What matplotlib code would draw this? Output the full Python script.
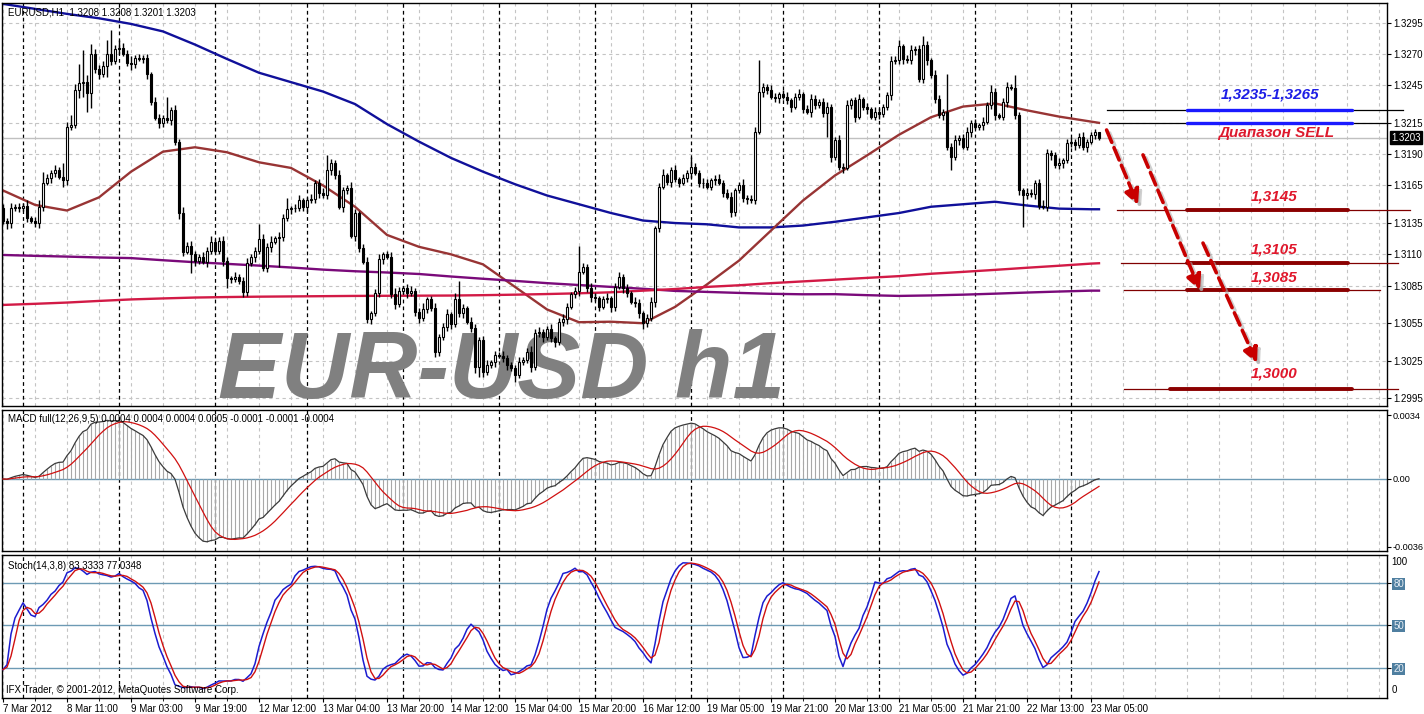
import matplotlib.pyplot as plt
import matplotlib.transforms as mtransforms
import numpy as np
import pandas as pd

plt.rcParams['font.family'] = ['Liberation Sans', 'DejaVu Sans']

# hourly bars, weekends skipped, monday starts at 01:00
hours = pd.date_range('2012-03-07 19:00', '2012-03-23 07:00', freq='h')
times = hours[(hours.dayofweek < 5) & ~((hours.dayofweek == 0) & (hours.hour == 0))]

# EURUSD H1 closes in pips above 1.3000
first_open = 147
close_pips = [
    137, 135, 147, 148, 147, 149, 139, 137, 135, 148,
    167, 171, 175, 177, 172, 169, 212, 213, 241, 247,
    248, 239, 270, 258, 254, 260, 270, 264, 274, 275,
    270, 263, 262, 267, 266, 267, 254, 232, 219, 215,
    219, 217, 225, 200, 143, 112, 117, 110, 105, 108,
    104, 113, 120, 113, 121, 105, 91, 90, 92, 89,
    80, 103, 108, 113, 122, 99, 116, 120, 123, 124,
    139, 146, 147, 147, 153, 148, 153, 154, 167, 159,
    157, 177, 183, 173, 148, 161, 163, 125, 143, 115,
    104, 58, 63, 79, 106, 110, 108, 78, 70, 81,
    83, 79, 81, 64, 59, 66, 74, 67, 32, 44,
    52, 62, 54, 74, 63, 67, 56, 51, 20, 42,
    16, 22, 24, 30, 29, 27, 22, 19, 14, 24,
    26, 32, 20, 47, 48, 44, 50, 43, 40, 56,
    58, 68, 78, 81, 96, 100, 83, 76, 75, 68,
    74, 75, 68, 84, 92, 83, 79, 72, 71, 63,
    55, 59, 72, 131, 164, 173, 168, 177, 170, 167,
    171, 175, 180, 175, 167, 167, 164, 169, 170, 167,
    159, 156, 144, 161, 165, 155, 154, 153, 208, 240,
    244, 241, 236, 235, 238, 236, 233, 228, 236, 238,
    226, 224, 234, 229, 232, 223, 228, 188, 201, 180,
    179, 229, 233, 220, 234, 228, 226, 220, 224, 222,
    228, 237, 264, 265, 276, 266, 265, 273, 274, 250,
    277, 265, 253, 234, 221, 224, 196, 188, 201, 203,
    196, 208, 215, 212, 213, 216, 229, 240, 221, 220,
    232, 244, 243, 221, 161, 157, 159, 158, 167, 149,
    148, 191, 189, 181, 183, 185, 199, 200, 197, 204,
    196, 200, 205, 208, 203,
]
# wick lengths in pips above / below the body
wick_up = [
    3, 2, 4, 2, 3, 2, 4, 2, 3, 5, 9, 3, 2, 4, 3, 11, 4, 8, 5, 15,
    25, 5, 8, 4, 3, 4, 11, 19, 3, 6, 4, 3, 5, 2, 3, 2, 3, 2, 4, 3,
    2, 17, 3, 4, 2, 5, 3, 4, 3, 2, 4, 3, 5, 2, 3, 4, 3, 2, 4, 2,
    3, 4, 2, 3, 12, 4, 3, 5, 2, 4, 3, 9, 2, 3, 4, 2, 3, 4, 2, 3,
    4, 12, 3, 2, 4, 3, 2, 5, 3, 2, 3, 4, 2, 3, 4, 2, 3, 4, 5, 3,
    2, 3, 4, 2, 3, 5, 2, 3, 4, 2, 3, 4, 2, 5, 15, 3, 2, 4, 3, 2,
    3, 4, 2, 3, 2, 4, 3, 2, 3, 4, 2, 3, 5, 3, 4, 2, 3, 4, 2, 3,
    4, 3, 2, 3, 21, 3, 2, 4, 3, 2, 3, 4, 2, 3, 4, 2, 3, 2, 4, 3,
    2, 3, 4, 2, 3, 5, 2, 3, 4, 2, 3, 2, 8, 3, 2, 4, 3, 2, 3, 4,
    2, 3, 4, 2, 3, 5, 2, 3, 4, 25, 3, 2, 4, 3, 2, 3, 4, 2, 3, 4,
    2, 3, 4, 3, 2, 3, 4, 2, 3, 4, 3, 4, 2, 3, 4, 2, 3, 2, 4, 3,
    2, 3, 4, 3, 5, 2, 3, 4, 2, 3, 7, 3, 2, 4, 3, 2, 30, 3, 4, 2,
    3, 4, 2, 3, 2, 4, 3, 5, 3, 2, 3, 4, 2, 10, 3, 2, 4, 3, 2, 3,
    4, 3, 2, 3, 4, 2, 3, 4, 2, 3, 4, 2, 3, 2, 0,
]
wick_dn = [
    3, 5, 4, 2, 3, 2, 3, 2, 3, 4, 3, 2, 4, 3, 2, 5, 4, 3, 2, 6,
    11, 15, 12, 3, 4, 2, 8, 3, 2, 4, 2, 3, 5, 3, 2, 3, 4, 3, 2, 4,
    3, 2, 4, 3, 5, 3, 2, 15, 4, 3, 2, 4, 3, 2, 3, 4, 8, 3, 2, 3,
    4, 3, 2, 4, 3, 2, 3, 4, 2, 23, 3, 2, 4, 3, 2, 3, 4, 2, 3, 4,
    2, 3, 4, 3, 2, 4, 3, 2, 4, 3, 2, 3, 4, 2, 3, 4, 2, 3, 4, 2,
    3, 4, 2, 3, 4, 2, 3, 2, 4, 3, 2, 3, 4, 2, 3, 4, 2, 3, 5, 8,
    4, 2, 3, 4, 2, 3, 4, 2, 6, 3, 2, 3, 4, 2, 3, 4, 2, 3, 4, 2,
    3, 4, 2, 3, 4, 2, 3, 4, 2, 3, 2, 3, 4, 3, 2, 4, 3, 2, 3, 4,
    5, 3, 2, 4, 3, 2, 3, 4, 2, 3, 2, 3, 4, 2, 3, 4, 2, 3, 4, 2,
    3, 2, 4, 3, 2, 3, 4, 2, 3, 2, 4, 3, 2, 3, 4, 2, 3, 4, 2, 3,
    3, 2, 4, 3, 2, 3, 19, 4, 3, 3, 4, 2, 3, 4, 2, 3, 4, 2, 3, 4,
    2, 3, 4, 2, 3, 4, 2, 3, 4, 2, 3, 4, 2, 3, 2, 4, 3, 11, 3, 4,
    2, 3, 4, 2, 3, 4, 2, 3, 4, 2, 3, 4, 2, 3, 4, 25, 3, 2, 4, 3,
    2, 3, 4, 2, 3, 4, 2, 3, 4, 2, 3, 4, 2, 3, 2,
]

# moving averages read every 8 bars (pips above 1.3000)
ma_bars = list(range(0, 273, 8)) + [274]
ma_blue = [310, 306, 302, 298.5, 294, 288, 277.5, 266, 255, 247.5, 240, 230,
           214, 200, 187, 176, 166, 157, 150, 143, 137, 135, 134, 131.5,
           131.5, 133, 136, 139.5, 143, 148, 150, 152, 149, 146.5, 146, 146]
ma_brown = [161, 149.5, 145, 155.5, 176, 192, 195.5, 191.5, 183.5, 179, 165, 148,
            125.5, 116, 110, 102, 84, 66, 55.8, 56.2, 55, 68, 86, 105,
            129, 153, 173, 189, 205.5, 219.5, 228, 230.5, 225, 220, 216, 215]
ma_purple = [109.5, 108.8, 108.2, 107.5, 107, 105.3, 103.7, 102.4, 101, 99.5, 97.8, 96.5,
             95.5, 94.3, 92.3, 90.5, 88.8, 87, 85.5, 84, 82.5, 80.8, 80, 79.2,
             78.5, 78.1, 78.2, 77.4, 76.8, 77.2, 77.8, 78.6, 79.5, 80.3, 81, 81]
ma_red = [69.6, 70.5, 71.5, 72.8, 74, 74.8, 75.5, 75.9, 76.2, 76.4, 76.6, 76.8,
          76.9, 77, 77.1, 77.4, 77.8, 78.3, 78.9, 79.7, 81, 82.3, 84, 85.3,
          87, 88.4, 89.8, 91.2, 92.6, 94.5, 96, 97.6, 99.3, 100.9, 102.6, 102.9]

price_ticks = [1.3295, 1.3270, 1.3245, 1.3215, 1.3190, 1.3165, 1.3135,
               1.3110, 1.3085, 1.3055, 1.3025, 1.2995]
bid = 1.3203

# analysis objects
sell_lines = [1.32253, 1.32151]
target_lines = [1.31454, 1.31033, 1.30815, 1.30022]
target_labels = ['1,3145', '1,3105', '1,3085', '1,3000']
target_label_y = [1.3156, 1.31135, 1.30916, 1.3015]
arrows = [((275.9, 1.32093), (283.75, 1.31494)),
          ((285.0, 1.31894), (299.25, 1.30815)),
          ((300.0, 1.31190), (313.5, 1.30232))]

o = np.array([first_open] + close_pips[:-1]) / 10000 + 1.3
c = np.array(close_pips) / 10000 + 1.3
h = np.maximum(o, c) + np.array(wick_up) / 10000
l = np.minimum(o, c) - np.array(wick_dn) / 10000
x = np.arange(len(c))

cs, hs, ls = pd.Series(c), pd.Series(h), pd.Series(l)
macd = cs.ewm(span=12, adjust=False).mean() - cs.ewm(span=26, adjust=False).mean()
signal = macd.rolling(9, min_periods=1).mean()
hh = hs.rolling(14, min_periods=1).max()
ll = ls.rolling(14, min_periods=1).min()
stoch_k = (cs - ll).rolling(8, min_periods=1).sum() / (hh - ll).rolling(8, min_periods=1).sum() * 100
stoch_d = stoch_k.rolling(3, min_periods=1).mean()

W, H = 1424, 714
FS = 7
fig = plt.figure(figsize=(W / 100, H / 100), dpi=100)
left, width = 2 / W, 1385 / W
ax = fig.add_axes([left, 1 - 406 / H, width, 403 / H])
ax2 = fig.add_axes([left, 1 - 551 / H, width, 141 / H])
ax3 = fig.add_axes([left, 1 - 698 / H, width, 143 / H])

day = times.normalize()
seps = np.where(day[1:] != day[:-1])[0] + 1
grid_kw = dict(color='#c4c4c4', lw=0.8, ls=(0, (3, 3)), zorder=0)
for a in (ax, ax2, ax3):
    a.set_xlim(-0.25, 346)
    for gx in range(0, 346, 8):
        a.axvline(gx, **grid_kw)
    for sx in seps:
        a.axvline(sx, color='black', lw=0.9, ls=(0, (3, 2.5)), zorder=1)
    for sp in a.spines.values():
        sp.set_linewidth(1)
    a.yaxis.tick_right()
    a.tick_params(axis='y', length=3, labelsize=FS, pad=1.5)
    a.tick_params(axis='x', bottom=False, labelbottom=False)

# price panel
ax.set_ylim(1.29889, 1.33107)
for p in price_ticks:
    ax.axhline(p, **grid_kw)
ax.axhline(bid, color='#c0c0c0', lw=1, zorder=1)
ax.set_yticks(price_ticks)
ax.set_yticklabels([f'{p:.4f}' for p in price_ticks])
ax.text(1.003, bid, f'{bid:.4f}', transform=ax.get_yaxis_transform(), ha='left', va='center',
        fontsize=FS, color='white', clip_on=False,
        bbox=dict(boxstyle='square,pad=0.15', fc='black', ec='black'))

ax.text(218 / W, 1 - 398 / H, 'EUR-USD h1', transform=fig.transFigure, fontsize=68,
        fontweight='bold', fontstyle='italic', color='#808080',
        va='baseline', zorder=1.5)

mb = np.array(ma_bars)
ax.plot(mb, np.array(ma_blue) / 10000 + 1.3, color='#10109a', lw=1.7, zorder=2)
ax.plot(mb, np.array(ma_brown) / 10000 + 1.3, color='#983434', lw=1.7, zorder=2)
ax.plot(mb, np.array(ma_purple) / 10000 + 1.3, color='#7a0a7a', lw=1.7, zorder=2)
ax.plot(mb, np.array(ma_red) / 10000 + 1.3, color='#d21a46', lw=1.7, zorder=2)

ax.vlines(x, l, h, color='black', lw=1, zorder=3)
up = c >= o
ax.bar(x[up], (c - o)[up], bottom=o[up], width=0.7, color='white', edgecolor='black', lw=0.8, zorder=4)
ax.bar(x[~up], (o - c)[~up], bottom=c[~up], width=0.7, color='black', edgecolor='black', lw=0.8, zorder=4)

ax.text(0.004, 0.99, 'EURUSD,H1  1.3208 1.3208 1.3201 1.3203', transform=ax.transAxes,
        va='top', fontsize=FS, zorder=6)

# sell zone and targets
ax.plot([276, 350], [sell_lines[0]] * 2, color='black', lw=0.9, clip_on=False, zorder=5)
ax.plot([276.5, 346], [sell_lines[1]] * 2, color='black', lw=0.9, clip_on=False, zorder=5)
for s in sell_lines:
    ax.plot([296, 337.25], [s, s], color='#1a1aff', lw=2.4, solid_capstyle='round', zorder=6)
lab_kw = dict(fontweight='bold', fontstyle='italic', fontsize=11,
              ha='center', va='center', zorder=7)
ax.text(316.75, 1.3238, '1,3235-1,3265', color='#1e1ee6', **lab_kw)
ax.text(318.4, 1.32069, 'Диапазон SELL', color='#dd1a2e', **lab_kw)

thin_x = [(278.5, 351.75), (279.5, 348.75), (280.25, 344.25), (280.25, 348.75)]
thick_x = [(296, 336.25), (296, 336.25), (296, 336.25), (291.75, 337.25)]
for lv, lab, ly, tx, kx in zip(target_lines, target_labels, target_label_y, thin_x, thick_x):
    ax.plot(tx, [lv, lv], color='#800000', lw=0.9, clip_on=False, zorder=5)
    ax.plot(kx, [lv, lv], color='#8b0000', lw=2.8, solid_capstyle='round', zorder=6)
    ax.text(317.75, ly, lab, color='#e0182c', **lab_kw)

shadow = mtransforms.offset_copy(ax.transData, fig=fig, x=3, y=-3, units='dots')
for (x0, y0), (x1, y1) in arrows:
    ax.annotate('', xy=(x1, y1), xytext=(x0, y0), xycoords=shadow, textcoords=shadow,
                arrowprops=dict(arrowstyle='-|>', ls='--', lw=2.6, color='#b0b0b0', alpha=0.6,
                                mutation_scale=22, shrinkA=0, shrinkB=0), zorder=6)
    ax.annotate('', xy=(x1, y1), xytext=(x0, y0),
                arrowprops=dict(arrowstyle='-|>', ls='--', lw=2.6, color='#c80000',
                                mutation_scale=22, shrinkA=0, shrinkB=0), zorder=7)

# MACD panel
ax2.set_ylim(-0.00383, 0.00367)
ax2.axhline(0, color='#6d9ab4', lw=1, zorder=1)
ax2.vlines(x, 0, macd, color='#a8a8a8', lw=0.8, zorder=2)
ax2.plot(x, macd, color='#3a3a3a', lw=0.9, zorder=3)
ax2.plot(x, signal, color='#d01010', lw=0.9, zorder=3)
ax2.set_yticks([0.0034, 0, -0.0036])
ax2.set_yticklabels(['0.0034', '0.00', '-0.0036'])
ax2.tick_params(axis='y', labelsize=6.6, pad=1)
ax2.text(0.004, 0.97, 'MACD full(12,26,9,5) 0.0004 0.0004 0.0004 0.0005 -0.0001 -0.0001 -0.0004',
         transform=ax2.transAxes, va='top', fontsize=FS, zorder=6)

# Stochastic panel
ax3.set_ylim(-1.3, 99.6)
for lv in (80, 50, 20):
    ax3.axhline(lv, color='#6d9ab4', lw=1, zorder=1)
ax3.plot(x, stoch_k, color='#1c1cd0', lw=1.1, zorder=3)
ax3.plot(x, stoch_d, color='#d01010', lw=1.0, zorder=3)
ax3.set_yticks([80, 50, 20])
ax3.set_yticklabels(['80', '50', '20'])
for t in ax3.get_yticklabels():
    t.set_color('#e8eef4')
    t.set_bbox(dict(fc='#4f7fa0', ec='none', pad=0.6))
ax3.text(1.003, 0.985, '100', transform=ax3.transAxes, ha='left', va='top', fontsize=FS, clip_on=False)
ax3.text(1.003, 0.02, '0', transform=ax3.transAxes, ha='left', va='bottom', fontsize=FS, clip_on=False)
ax3.text(0.004, 0.96, 'Stoch(14,3,8) 83.3333 77.0348', transform=ax3.transAxes,
         va='top', fontsize=FS, zorder=6)
ax3.text(0.003, 0.02, 'IFX Trader, © 2001-2012, MetaQuotes Software Corp.', transform=ax3.transAxes,
         va='bottom', fontsize=FS, zorder=6)

tick_idx = list(range(0, len(times), 16))
tick_lab = [f'{times[i].day} {times[i]:%b} {times[i]:%H:%M}' for i in tick_idx]
tick_lab[0] = f'{times[0].day} {times[0]:%b %Y}'
ax3.set_xticks(tick_idx)
ax3.set_xticklabels(tick_lab, ha='left')
ax3.set_xticks(range(8, len(times), 16), minor=True)
ax3.tick_params(axis='x', which='major', bottom=True, labelbottom=True, length=3,
                labelsize=FS, pad=1)
ax3.tick_params(axis='x', which='minor', bottom=True, length=2)

fig.savefig('out.png', dpi=100, facecolor='white')
